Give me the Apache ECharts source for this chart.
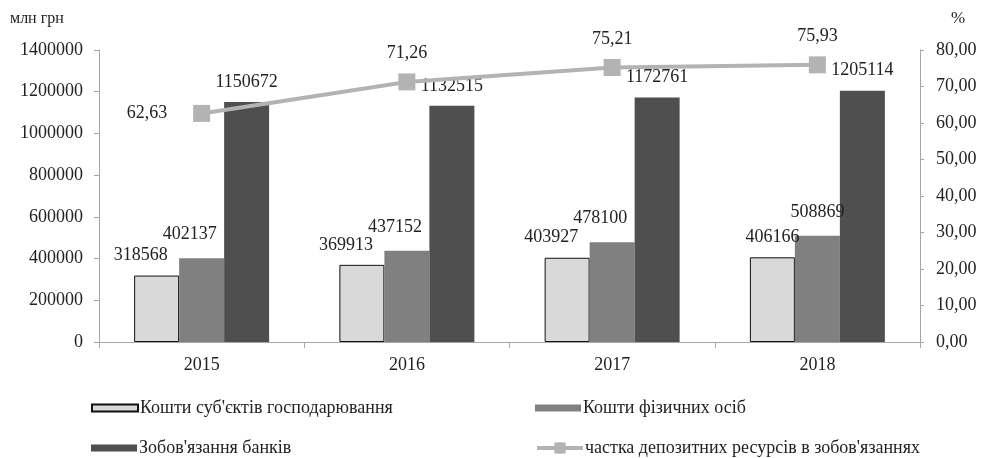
<!DOCTYPE html>
<html>
<head>
<meta charset="utf-8">
<script src="https://cdn.jsdelivr.net/npm/echarts@6/dist/echarts.min.js"></script>
<style>
html,body{margin:0;padding:0;background:#fff;}
#chart{width:981px;height:458px;}
</style>
</head>
<body>
<div id="chart"></div>
<script>
const years = ['2015', '2016', '2017', '2018'];
const entityFunds = [318568, 369913, 403927, 406166];
const personalFunds = [402137, 437152, 478100, 508869];
const bankLiabilities = [1150672, 1132515, 1172761, 1205114];
const depositShare = [62.63, 71.26, 75.21, 75.93];
const seriesNames = ["Кошти суб'єктів господарювання", "Кошти фізичних осіб", "Зобов'язання банків", "частка депозитних ресурсів в зобов'язаннях"];

const FONT = '"Liberation Serif", "Times New Roman", serif';
const axisGray = '#a6a6a6';
const comma = v => Number(v).toFixed(2).replace('.', ',');

const barLabel = (dist) => ({
  show: true, position: 'top', distance: dist,
  color: '#222', fontFamily: FONT, fontSize: 18
});
// labels of the two smaller bars in the first three groups are nudged left (as in the original)
const nudged = (vals, dx) => vals.map((v, i) => i < 3 ? {value: v, label: {offset: [dx, 0]}} : v);

const legendPos = [[86, 394], [530, 394], [86, 434], [530, 434]];
const legends = seriesNames.map((n, i) => ({
  orient: 'horizontal', left: legendPos[i][0], top: legendPos[i][1],
  itemWidth: 46, itemHeight: i === 3 ? 14 : 7,
  icon: i === 3 ? undefined : 'rect',
  data: [i === 3 ? {name: n, lineStyle: {width: 4, color: '#b3b3b3'}, itemStyle: {color: '#b3b3b3'}} : n],
  textStyle: {fontFamily: FONT, fontSize: 18, color: '#222', padding: [0, 0, 0, -3]}
}));

const chart = echarts.init(document.getElementById('chart'), null, {renderer: 'canvas'});
chart.setOption({
  animation: false,
  backgroundColor: '#fff',
  textStyle: {fontFamily: FONT},
  grid: {left: 99, right: 61, top: 50, bottom: 116, containLabel: false},
  graphic: [
    {type: 'text', left: 10, top: 11, style: {text: 'млн грн', font: '16px ' + FONT, fill: '#222'}},
    {type: 'text', left: 951, top: 10, style: {text: '%', font: '17px ' + FONT, fill: '#222'}}
  ],
  legend: legends,
  xAxis: {
    type: 'category', data: years,
    axisLine: {lineStyle: {color: axisGray, width: 1}},
    axisTick: {show: true, length: 6, lineStyle: {color: axisGray}},
    axisLabel: {color: '#222', fontFamily: FONT, fontSize: 18, margin: 14},
    splitLine: {show: false}
  },
  yAxis: [
    {
      type: 'value', min: 0, max: 1400000, interval: 200000,
      axisLine: {show: true, lineStyle: {color: axisGray}},
      axisTick: {show: true, length: 5, lineStyle: {color: axisGray}},
      axisLabel: {color: '#222', fontFamily: FONT, fontSize: 18, margin: 16, formatter: v => String(v)},
      splitLine: {show: false}
    },
    {
      type: 'value', min: 0, max: 80, interval: 10, position: 'right',
      axisLine: {show: true, lineStyle: {color: axisGray}},
      axisTick: {show: true, length: 4, lineStyle: {color: axisGray}},
      axisLabel: {color: '#222', fontFamily: FONT, fontSize: 18, margin: 16, formatter: v => comma(v)},
      splitLine: {show: false}
    }
  ],
  series: [
    {
      name: seriesNames[0], type: 'bar', data: nudged(entityFunds, -16), barWidth: 45, barGap: '0%',
      itemStyle: {color: '#d9d9d9', borderColor: '#111', borderWidth: 1},
      label: barLabel(11)
    },
    {
      name: seriesNames[1], type: 'bar', data: nudged(personalFunds, -12), barWidth: 45, barGap: '0%',
      itemStyle: {color: '#808080'},
      label: barLabel(15)
    },
    {
      name: seriesNames[2], type: 'bar', data: bankLiabilities, barWidth: 45, barGap: '0%',
      itemStyle: {color: '#4f4f4f'},
      label: barLabel(11)
    },
    {
      name: seriesNames[3], type: 'line', yAxisIndex: 1,
      data: depositShare.map((v, i) => i === 0 ? {value: v, label: {position: 'left', distance: 26}} : v),
      symbol: 'rect', symbolSize: 17,
      lineStyle: {color: '#b3b3b3', width: 4},
      itemStyle: {color: '#b3b3b3'},
      label: {show: true, position: 'top', distance: 11, color: '#222', fontFamily: FONT, fontSize: 18,
        formatter: p => comma(p.value)},
      z: 5
    }
  ]
});
</script>
</body>
</html>
